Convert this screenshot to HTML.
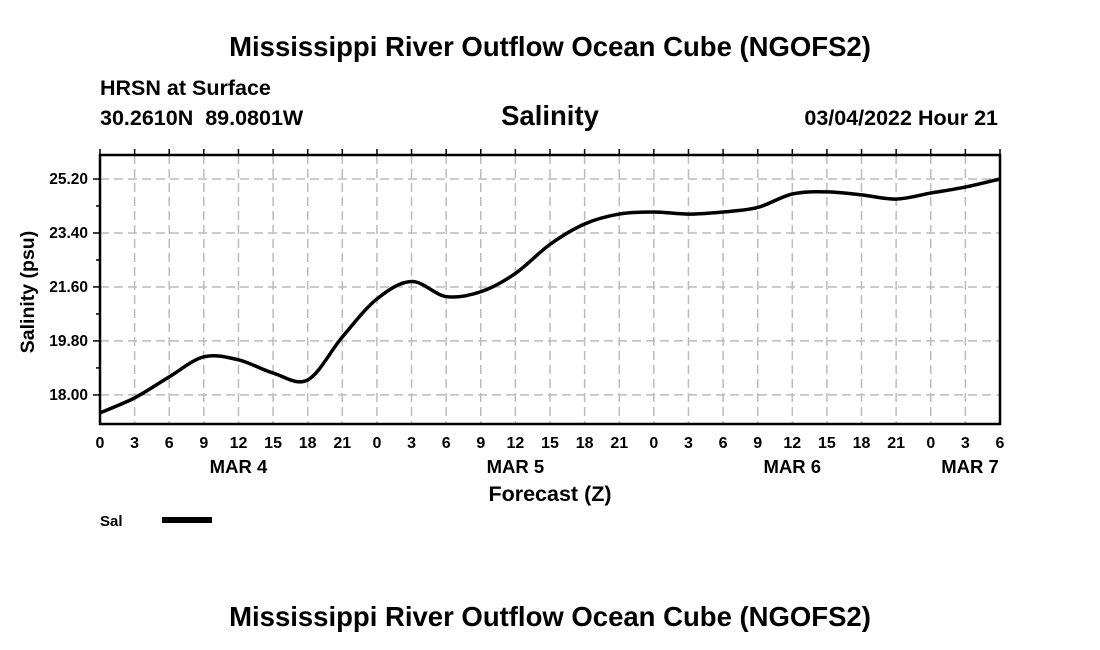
<!DOCTYPE html>
<html><head><meta charset="utf-8"><style>
body{margin:0;background:#fff;}
svg{display:block;font-family:"Liberation Sans",Arial,sans-serif;font-weight:bold;}
</style></head><body>
<svg id="chart" width="1100" height="650" viewBox="0 0 1100 650">
<text x="550" y="56" text-anchor="middle" font-size="27.5">Mississippi River Outflow Ocean Cube (NGOFS2)</text>
<text x="100" y="95" font-size="21.5">HRSN at Surface</text>
<text x="100" y="125" font-size="21.5" xml:space="preserve" style="white-space:pre">30.2610N  89.0801W</text>
<text x="550" y="125" text-anchor="middle" font-size="27.5">Salinity</text>
<text x="998" y="125" text-anchor="end" font-size="21.5">03/04/2022 Hour 21</text>
<g id="grid"></g>
<g id="axes"></g>
<path id="line" fill="none" stroke="#000" stroke-width="3.5" stroke-linejoin="round"/>
<text x="34" y="292" text-anchor="middle" font-size="19.5" transform="rotate(-90 34 292)">Salinity (psu)</text>
<text x="550" y="501" text-anchor="middle" font-size="21.5">Forecast (Z)</text>
<text x="100" y="526" font-size="15">Sal</text>
<line x1="162" y1="520" x2="212" y2="520" stroke="#000" stroke-width="6"/>
<text x="550" y="626" text-anchor="middle" font-size="27.5">Mississippi River Outflow Ocean Cube (NGOFS2)</text>
</svg>
<script>
const hours=[0,3,6,9,12,15,18,21,24,27,30,33,36,39,42,45,48,51,54,57,60,63,66,69,72,75,78];
const salinity=[17.4,17.9,18.6,19.27,19.17,18.73,18.5,19.93,21.2,21.78,21.28,21.44,22.05,23.02,23.7,24.03,24.1,24.03,24.1,24.25,24.7,24.77,24.67,24.53,24.73,24.93,25.2];
const yTicks=["18.00","19.80","21.60","23.40","25.20"];
const xTickLabels=["0","3","6","9","12","15","18","21","0","3","6","9","12","15","18","21","0","3","6","9","12","15","18","21","0","3","6"];
const dayLabels=["MAR 4","MAR 5","MAR 6","MAR 7"];
const dayHours=[12,36,60,78];
const L=100,R=1000,T=155,B=424,xMin=0,xMax=78,yMin=17.03,yMax=26.0;
const X=h=>L+(h-xMin)/(xMax-xMin)*(R-L);
const Y=v=>B-(v-yMin)/(yMax-yMin)*(B-T);
const NS="http://www.w3.org/2000/svg";
function mk(tag,attrs,parent,txt){const e=document.createElementNS(NS,tag);for(const k in attrs)e.setAttribute(k,attrs[k]);if(txt!==undefined)e.textContent=txt;parent.appendChild(e);return e;}
const grid=document.getElementById('grid'),axes=document.getElementById('axes');
xTickLabels.forEach((lab,i)=>{const h=i*3,x=X(h);
 if(i>0&&i<xTickLabels.length-1){const g=mk('line',{x1:x,y1:T,x2:x,y2:B,stroke:'#bbb','stroke-width':1.5,'stroke-dasharray':'9,5'},grid);
 
 }
 const t1=mk('line',{x1:x,y1:T,x2:x,y2:T-6,stroke:'#000','stroke-width':1.5},axes);
 
 
 const t=mk('text',{x:x,y:B+24,'text-anchor':'middle','font-size':16},axes,lab);
 
 });
dayLabels.forEach((d,i)=>{const t=mk('text',{x:X(dayHours[i])+(i==3?-30:0),y:B+49,'text-anchor':'middle','font-size':18.5},axes,d);
 
 });
yTicks.forEach(s=>{const v=parseFloat(s),y=Y(v);
 const g=mk('line',{x1:L,y1:y,x2:R,y2:y,stroke:'#bbb','stroke-width':1.5,'stroke-dasharray':'9,5'},grid);
 
 
 const tk=mk('line',{x1:L-7,y1:y,x2:L,y2:y,stroke:'#000','stroke-width':1.5},axes);
 
 
 const m=Y(v+0.9);if(m>T){const mt=mk('line',{x1:L-4,y1:m,x2:L,y2:m,stroke:'#000','stroke-width':1.5},axes);
 
 }
 const t=mk('text',{x:L-12,y:y+5,'text-anchor':'end','font-size':15.5},axes,s);
 
 });
const fr=mk('rect',{x:L,y:T,width:R-L,height:B-T,fill:'none',stroke:'#000','stroke-width':2.5},axes);


const P=hours.map((h,i)=>[X(h),Y(salinity[i])]);
let d='M'+P[0][0]+','+P[0][1];
for(let i=0;i<P.length-1;i++){const p0=P[Math.max(0,i-1)],p1=P[i],p2=P[i+1],p3=P[Math.min(P.length-1,i+2)];
 d+=' C'+(p1[0]+(p2[0]-p0[0])/6)+','+(p1[1]+(p2[1]-p0[1])/6)+' '+(p2[0]-(p3[0]-p1[0])/6)+','+(p2[1]-(p3[1]-p1[1])/6)+' '+p2[0]+','+p2[1];}
document.getElementById('line').setAttribute('d',d);
</script>
</body></html>
